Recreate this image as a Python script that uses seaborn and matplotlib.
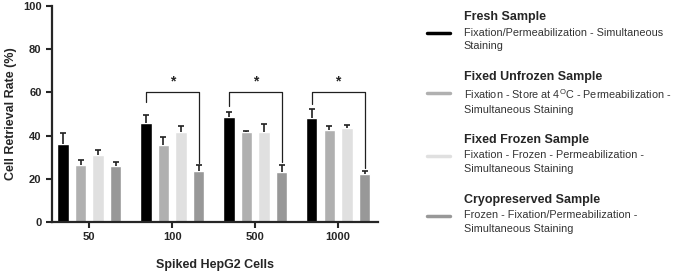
import numpy as np
import pandas as pd
import seaborn as sns
import matplotlib.pyplot as plt
from matplotlib.lines import Line2D

# data
cells = ["50", "100", "500", "1000"]
samples = ["Fresh Sample", "Fixed Unfrozen Sample", "Fixed Frozen Sample", "Cryopreserved Sample"]
fresh = [36.0, 45.8, 48.7, 48.3]
unfrozen = [26.5, 35.8, 41.5, 42.7]
frozen = [31.0, 41.7, 41.7, 43.5]
cryo = [26.0, 23.8, 23.0, 22.0]
fresh_err = [5.0, 3.7, 2.3, 4.2]
unfrozen_err = [2.0, 3.7, 0.7, 1.6]
frozen_err = [2.5, 2.6, 3.8, 1.5]
cryo_err = [2.0, 2.5, 3.3, 1.5]
descriptions = [
    "Fixation/Permeabilization - Simultaneous\nStaining",
    "Fixation - Store at 4$^{\\mathregular{O}}$C - Permeabilization -\nSimultaneous Staining",
    "Fixation - Frozen - Permeabilization -\nSimultaneous Staining",
    "Frozen - Fixation/Permeabilization -\nSimultaneous Staining",
]
palette = ["#000000", "#b0b0b0", "#e0e0e0", "#989898"]
# significance brackets (group index, top, left leg end, right leg end)
sig_groups = [1, 2, 3]
sig_top = [60, 60, 60]
sig_left = [55.5, 53.5, 54.5]
sig_right = [27.5, 28.0, 25.0]

sns.set_style("ticks")
plt.rcParams['font.family'] = ['Liberation Sans', 'DejaVu Sans']

means = [fresh, unfrozen, frozen, cryo]
errs = [fresh_err, unfrozen_err, frozen_err, cryo_err]
df = pd.DataFrame({
    "cells": np.tile(cells, 4),
    "sample": np.repeat(samples, 4),
    "rate": np.concatenate(means),
})

fig = plt.figure(figsize=(6.85, 2.76), dpi=100)
ax = fig.add_axes([0.0759, 0.1957, 0.4759, 0.7826])

sns.barplot(data=df, x="cells", y="rate", hue="sample", order=cells, hue_order=samples,
            palette=palette, errorbar=None, width=0.85, gap=0.35, saturation=1,
            legend=False, ax=ax)

# upward error bars placed at the bars seaborn drew
bar_sets = list(ax.containers)
for i, cont in enumerate(bar_sets):
    xs = [p.get_x() + p.get_width() / 2 for p in cont.patches]
    hs = [p.get_height() for p in cont.patches]
    eb = ax.errorbar(xs, hs, yerr=[np.zeros(4), errs[i]], fmt="none", ecolor="#202020",
                     elinewidth=1.2, capsize=2.5, capthick=1.2, zorder=1)
    eb[1][0].remove()  # drop the cap sitting on the bar top

fresh_x = [p.get_x() + p.get_width() / 2 for p in bar_sets[0].patches]
cryo_x = [p.get_x() + p.get_width() / 2 for p in bar_sets[3].patches]
for g, top, l, r in zip(sig_groups, sig_top, sig_left, sig_right):
    x0, x1 = fresh_x[g], cryo_x[g]
    ax.plot([x0, x0, x1, x1], [l, top, top, r], color="#202020", lw=0.9)
    ax.text((x0 + x1) / 2, top + 2, "*", ha="center", va="bottom", fontsize=10, fontweight="bold")

ax.set_ylim(0, 100)
ax.set_xlim(-0.45, 3.48)
ax.set_yticks([0, 20, 40, 60, 80, 100])
ax.set_xlabel("Spiked HepG2 Cells", fontsize=9, fontweight="bold", labelpad=12)
ax.set_ylabel("Cell Retrieval Rate (%)", fontsize=9, fontweight="bold")
ax.tick_params(labelsize=8, width=1.5, length=4)
for t in ax.get_xticklabels() + ax.get_yticklabels():
    t.set_fontweight("bold")
sns.despine(ax=ax)
for s in ["left", "bottom"]:
    ax.spines[s].set_linewidth(1.6)

# legend drawn beside the axes
title_y = [17, 77, 140, 200]
for name, desc, col, ty in zip(samples, descriptions, palette, title_y):
    y = 1 - ty / 276
    y_desc = y - 16 / 276
    fig.text(0.677, y, name, fontsize=9, fontweight="bold", va="center")
    fig.text(0.677, y_desc + 5.5 / 276, desc, fontsize=7.8, va="top", linespacing=1.4,
             color="#333333")
    fig.add_artist(Line2D([0.623, 0.657], [y_desc] * 2, color=col, lw=2.5,
                          transform=fig.transFigure))

fig.savefig("out.png", dpi=100)
